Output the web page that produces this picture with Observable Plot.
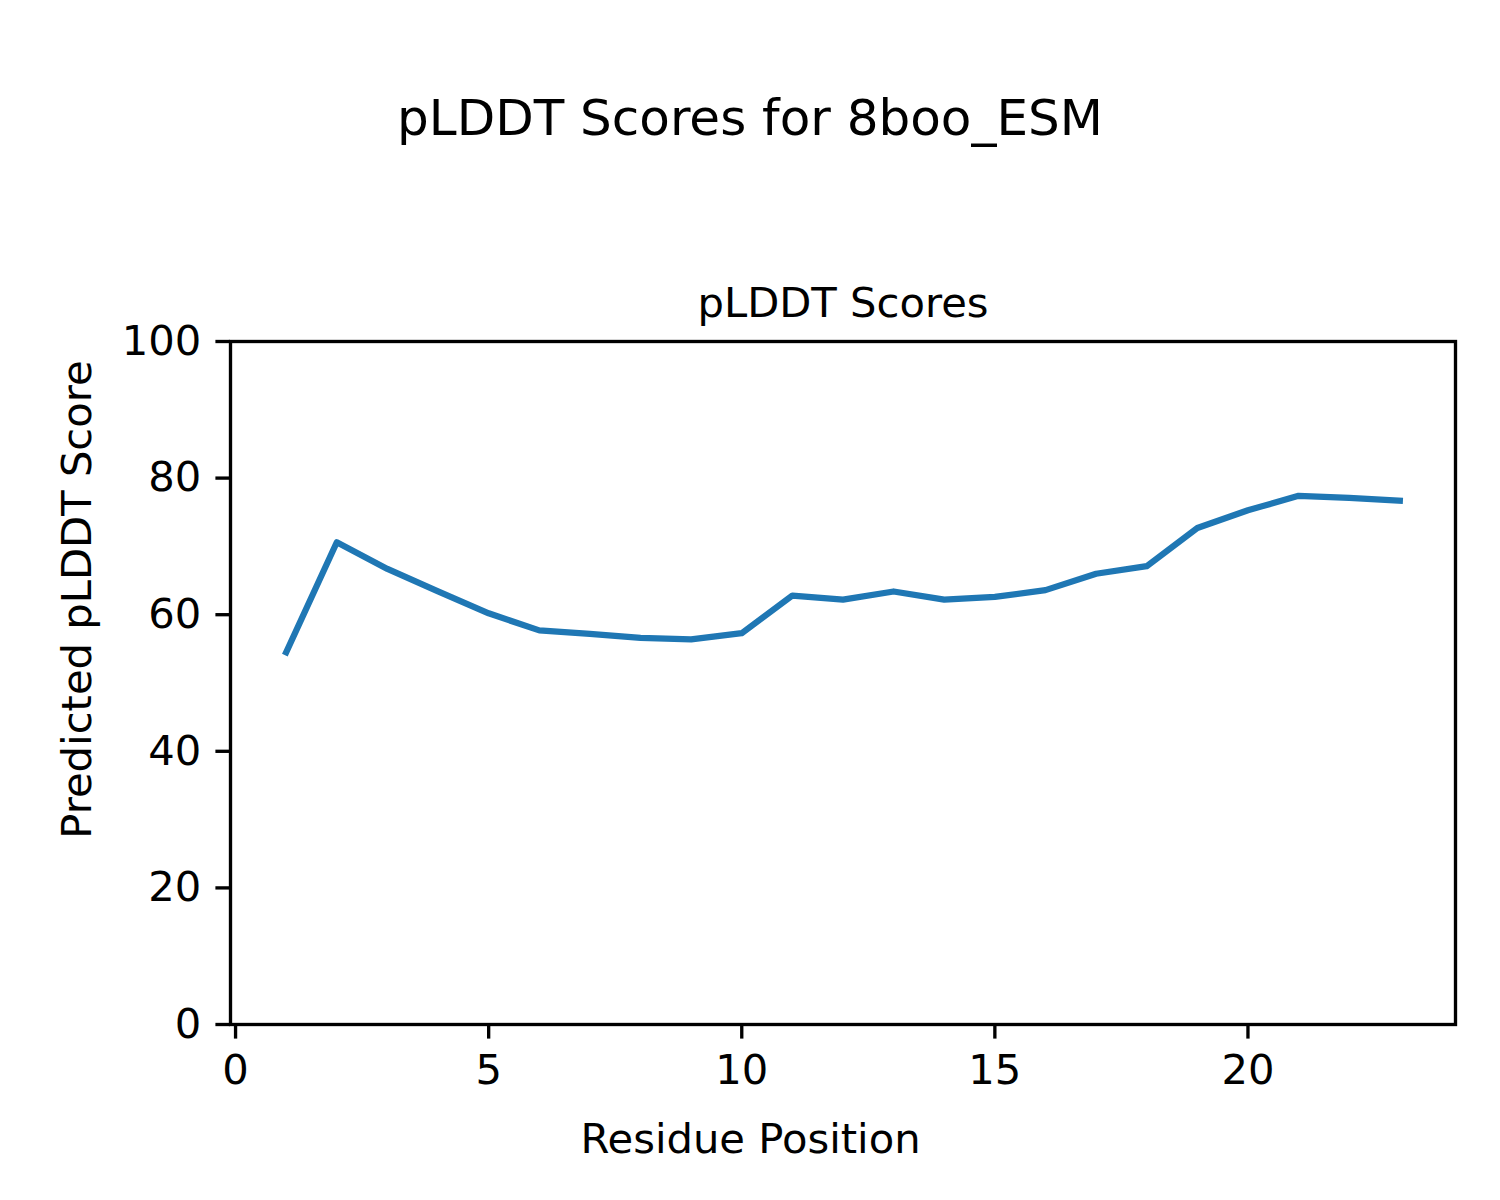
<!DOCTYPE html>
<html><head><meta charset="utf-8">
<script src="https://cdn.jsdelivr.net/npm/d3@7"></script>
<script src="https://cdn.jsdelivr.net/npm/@observablehq/plot@0.6"></script>
<style>
body{margin:0;background:#fff;font-family:"DejaVu Sans";}
#wrap{width:1500px;}
#title{height:200px;box-sizing:border-box;padding-top:89px;line-height:58px;font-size:50px;text-align:center;color:#000;white-space:nowrap;font-family:"DejaVu Sans";}
#chart svg{display:block;}
</style></head><body>
<div id="wrap"><div id="title">pLDDT Scores for 8boo_ESM</div><div id="chart"></div></div>
<script>
const residues = [1, 2, 3, 4, 5, 6, 7, 8, 9, 10, 11, 12, 13, 14, 15, 16, 17, 18, 19, 20, 21, 22, 23];
const scores = [54.5, 70.6, 66.7, 63.4, 60.2, 57.7, 57.2, 56.6, 56.4, 57.3, 62.8, 62.2, 63.4, 62.2, 62.6, 63.6, 66.0, 67.1, 72.7, 75.3, 77.4, 77.1, 76.7];
const xTicks = [0, 5, 10, 15, 20];
const yTicks = [0, 20, 40, 60, 80, 100];
const axesTitle = "pLDDT Scores";
const xLabel = "Residue Position";
const yLabel = "Predicted pLDDT Score";

const data = residues.map((r, i) => ({residue: r, score: scores[i]}));
const fs = 41.7;

const chart = Plot.plot({
  width: 1500,
  height: 1000,
  marginTop: 141,
  marginBottom: 176,
  marginLeft: 230,
  marginRight: 45,
  style: {fontFamily: "DejaVu Sans", fontSize: fs + "px", color: "black", background: "white"},
  x: {domain: [-0.1, 24.1]},
  y: {domain: [0, 100]},
  marks: [
    Plot.line(data, {x: "residue", y: "score", stroke: "#1f77b4", strokeWidth: 6.25, strokeLinejoin: "round", strokeLinecap: "square"}),
    Plot.frame({stroke: "black", strokeWidth: 3.33}),
    Plot.axisX({ticks: xTicks, tickSize: 14.6, tickPadding: 14.8, strokeWidth: 3.33, fontSize: fs, label: null, tickFormat: d => String(d)}),
    Plot.axisY({ticks: yTicks, tickSize: 14.6, tickPadding: 14.6, strokeWidth: 3.33, fontSize: fs, label: null, tickFormat: d => String(d)}),
    Plot.text([axesTitle], {text: d => d, frameAnchor: "top", textAnchor: "middle", lineAnchor: "bottom", dy: -25, fontSize: fs, fill: "black"}),
    Plot.text([xLabel], {text: d => d, frameAnchor: "bottom", textAnchor: "middle", lineAnchor: "bottom", dx: -92.5, dy: 128, fontSize: fs, fill: "black"}),
    Plot.text([yLabel], {text: d => d, frameAnchor: "left", textAnchor: "middle", lineAnchor: "bottom", rotate: -90, dx: -140, dy: -83.5, fontSize: fs, fill: "black"})
  ]
});
document.getElementById("chart").appendChild(chart);
</script>
</body></html>
